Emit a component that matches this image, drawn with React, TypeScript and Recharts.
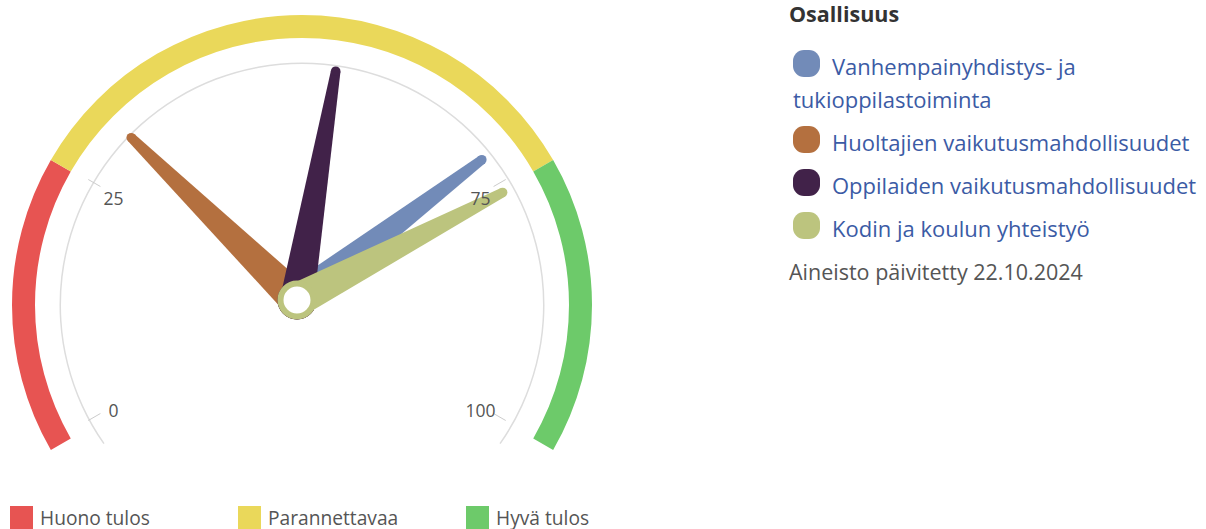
import { PieChart, Pie, Cell, RadialBarChart, RadialBar, PolarAngleAxis } from "recharts";

const bandNames = ["Huono tulos", "Parannettavaa", "Hyvä tulos"];
const bandSizes = [25, 50, 25];
const bandColors = ["#e75452", "#ead85a", "#6dca6a"];

const needleNames = [
  "Vanhempainyhdistys- ja tukioppilastoiminta",
  "Huoltajien vaikutusmahdollisuudet",
  "Oppilaiden vaikutusmahdollisuudet",
  "Kodin ja koulun yhteistyö",
];
const needleValues = [72, 31, 54, 76];
const needleColors = ["#728bb8", "#b4703f", "#412249", "#bcc47e"];

const tickValues = [0, 25, 75, 100];

const CX = 297;
const CY = 300;
const RAD = Math.PI / 180;
const FONT = "'Open Sans', 'Noto Sans', sans-serif";

const bands = bandNames.map((name, i) => ({ name, value: bandSizes[i] }));
const needles = needleNames.map((name, i) => ({ name, value: needleValues[i], color: needleColors[i] }));

function Needle(props: any) {
  const cx = props.cx ?? CX;
  const cy = props.cy ?? CY;
  const a = props.endAngle * RAD;
  const color = props.color ?? props.payload?.color;
  const ux = Math.cos(a);
  const uy = -Math.sin(a);
  const nx = -uy;
  const ny = ux;
  const len = 232;
  const bw = 17;
  const tw = 4.8;
  const tx = cx + ux * len;
  const ty = cy + uy * len;
  const pts = [
    [cx + nx * bw, cy + ny * bw],
    [tx + nx * tw, ty + ny * tw],
    [tx - nx * tw, ty - ny * tw],
    [cx - nx * bw, cy - ny * bw],
  ]
    .map((p) => p.join(","))
    .join(" ");
  return (
    <g>
      <polygon points={pts} fill={color} />
      <circle cx={tx} cy={ty} r={tw} fill={color} />
      <circle cx={cx} cy={cy} r={16.5} fill="#fff" stroke={color} strokeWidth={6} />
    </g>
  );
}

function AngleTick(props: any) {
  const { payload } = props;
  const a = payload.coordinate * RAD;
  const r = 212;
  const x = CX + r * Math.cos(a);
  const y = CY - r * Math.sin(a) + 4;
  return (
    <text x={x} y={y} textAnchor="middle" dominantBaseline="central" fontSize={17.5} fill="#555" fontFamily={FONT}>
      {payload.value}
    </text>
  );
}

export default function App() {
  return (
    <div style={{ position: "absolute", left: 0, top: 0, width: 1206, height: 529, fontFamily: FONT, background: "#fff" }}>
      <div style={{ position: "absolute", left: 0, top: 0 }}>
        <PieChart width={600} height={470}>
          <Pie
            data={[{ name: "arc", value: 1 }]}
            dataKey="value"
            cx={CX}
            cy={CY}
            startAngle={215}
            endAngle={-35}
            innerRadius={241}
            outerRadius={242.5}
            fill="#dddddd"
            stroke="none"
            isAnimationActive={false}
          />
          <Pie
            data={bands}
            dataKey="value"
            cx={CX}
            cy={CY}
            startAngle={210}
            endAngle={-30}
            innerRadius={267}
            outerRadius={290}
            stroke="none"
            isAnimationActive={false}
          >
            {bands.map((b, i) => (
              <Cell key={b.name} fill={bandColors[i]} />
            ))}
          </Pie>
        </PieChart>
      </div>
      <div style={{ position: "absolute", left: 0, top: 0 }}>
        <RadialBarChart
          width={600}
          height={470}
          cx={CX}
          cy={CY}
          innerRadius={0}
          outerRadius={241}
          startAngle={210}
          endAngle={-30}
          data={needles}
        >
          <PolarAngleAxis
            type="number"
            domain={[0, 100]}
            ticks={tickValues}
            tick={AngleTick}
            tickLine={{ stroke: "#cccccc" }}
            axisLine={false}
            orientation="inner"
            tickSize={14}
          />
          <RadialBar dataKey="value" shape={Needle} isAnimationActive={false} />
        </RadialBarChart>
      </div>

      <div style={{ position: "absolute", left: 789, top: 0, width: 417 }}>
        <div style={{ fontSize: 21.5, fontWeight: 700, color: "#333", lineHeight: "28px" }}>Osallisuus</div>
        <div style={{ marginTop: 22 }}>
          {needles.map((n) => (
            <div key={n.name} style={{ fontSize: 22, lineHeight: "33px", color: "#3b5ba5", marginBottom: 10, paddingLeft: 4 }}>
              <span
                style={{
                  display: "inline-block",
                  width: 27,
                  height: 27,
                  borderRadius: 11,
                  background: n.color,
                  verticalAlign: "top",
                  marginRight: 12,
                }}
              />
              {n.name}
            </div>
          ))}
        </div>
        <div style={{ fontSize: 21.5, lineHeight: "33px", color: "#555" }}>Aineisto päivitetty 22.10.2024</div>
      </div>

      <div style={{ position: "absolute", left: 10, top: 504, display: "flex" }}>
        {bands.map((b, i) => (
          <div key={b.name} style={{ width: 228, display: "flex", alignItems: "center", fontSize: 19.2, color: "#555" }}>
            <span style={{ display: "inline-block", width: 23, height: 23, background: bandColors[i], marginRight: 7 }} />
            {b.name}
          </div>
        ))}
      </div>
    </div>
  );
}
